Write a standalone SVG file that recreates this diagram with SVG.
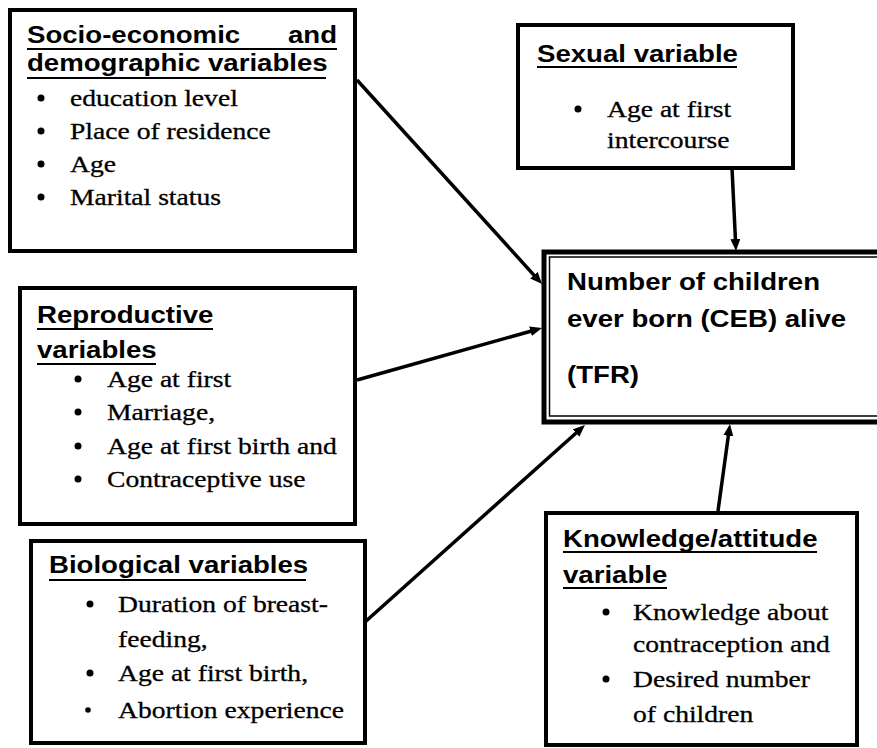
<svg xmlns="http://www.w3.org/2000/svg" width="877" height="748" viewBox="0 0 877 748">
<defs>
<style>
.box{fill:#fff;stroke:#000;stroke-width:4}
.h{font-family:"Liberation Sans",Arial,sans-serif;font-weight:bold;font-size:24px;fill:#000}
.t{font-family:"Liberation Serif","Times New Roman",serif;font-size:24px;fill:#000;stroke:#000;stroke-width:0.3}
.ul{stroke:#000;stroke-width:2}
.dot{fill:#000}
.conn{stroke:#000;stroke-width:3.5;fill:none;marker-end:url(#ah)}
</style>
<marker id="ah" markerUnits="userSpaceOnUse" markerWidth="13" markerHeight="11" refX="2" refY="5" orient="auto">
<path d="M0,0 L12,5 L0,10 z" fill="#000"/>
</marker>
</defs>
<rect width="877" height="748" fill="#fff"/>

<g id="connectors">
<path class="conn" d="M357,80 L535.3,276.6"/>
<path class="conn" d="M357,380 L532.4,330.7"/>
<path class="conn" d="M365,622 L577.5,431.7"/>
<path class="conn" d="M718,511 L728.6,433.9"/>
<path class="conn" d="M732,168 L735.5,241"/>
</g>

<g id="socio">
<rect class="box" x="10" y="10" width="345" height="241"/>
<text class="h" transform="matrix(1.15 0 0 1 27 43)">Socio-economic</text>
<text class="h" text-anchor="end" transform="matrix(1.15 0 0 1 337 43)">and</text>
<line class="ul" x1="27" y1="49" x2="337" y2="49"/>
<text class="h" transform="matrix(1.15 0 0 1 27 71)">demographic variables</text>
<line class="ul" x1="27" y1="78" x2="326" y2="78"/>
<circle class="dot" cx="41" cy="98" r="3.5"/>
<text class="t" transform="matrix(1.15 0 0 1 70 106)">education level</text>
<circle class="dot" cx="41" cy="131" r="3.5"/>
<text class="t" transform="matrix(1.15 0 0 1 70 139)">Place of residence</text>
<circle class="dot" cx="41" cy="164" r="3.5"/>
<text class="t" transform="matrix(1.15 0 0 1 70 172)">Age</text>
<circle class="dot" cx="41" cy="197" r="3.5"/>
<text class="t" transform="matrix(1.15 0 0 1 70 205)">Marital status</text>
</g>

<g id="sexual">
<rect class="box" x="518" y="25" width="275" height="143"/>
<text class="h" transform="matrix(1.15 0 0 1 537 62)">Sexual variable</text>
<line class="ul" x1="537" y1="67" x2="737" y2="67"/>
<circle class="dot" cx="578" cy="109" r="3.5"/>
<text class="t" transform="matrix(1.15 0 0 1 607 117)">Age at first</text>
<text class="t" transform="matrix(1.15 0 0 1 607 148)">intercourse</text>
</g>

<g id="outcome">
<rect x="544" y="252" width="400" height="170" fill="#fff" stroke="#000" stroke-width="5"/>
<rect x="549.5" y="257" width="400" height="159" fill="none" stroke="#000" stroke-width="1.5"/>
<text class="h" transform="matrix(1.15 0 0 1 567 290)">Number of children</text>
<text class="h" transform="matrix(1.15 0 0 1 567 327)">ever born (CEB) alive</text>
<text class="h" transform="matrix(1.15 0 0 1 567 383)">(TFR)</text>
</g>

<g id="reproductive">
<rect class="box" x="20" y="288" width="335" height="236"/>
<text class="h" transform="matrix(1.15 0 0 1 37 323)">Reproductive</text>
<line class="ul" x1="37" y1="329" x2="213" y2="329"/>
<text class="h" transform="matrix(1.15 0 0 1 37 358)">variables</text>
<line class="ul" x1="37" y1="364" x2="156" y2="364"/>
<circle class="dot" cx="78" cy="379" r="3.5"/>
<text class="t" transform="matrix(1.15 0 0 1 107 387)">Age at first</text>
<circle class="dot" cx="78" cy="412" r="3.5"/>
<text class="t" transform="matrix(1.15 0 0 1 107 420)">Marriage,</text>
<circle class="dot" cx="78" cy="446" r="3.5"/>
<text class="t" transform="matrix(1.15 0 0 1 107 454)">Age at first birth and</text>
<circle class="dot" cx="78" cy="479" r="3.5"/>
<text class="t" transform="matrix(1.15 0 0 1 107 487)">Contraceptive use</text>
</g>

<g id="biological">
<rect class="box" x="31" y="541" width="334" height="202"/>
<text class="h" transform="matrix(1.15 0 0 1 49 573)">Biological variables</text>
<line class="ul" x1="49" y1="580" x2="306" y2="580"/>
<circle class="dot" cx="90" cy="604" r="3.5"/>
<text class="t" transform="matrix(1.15 0 0 1 118 612)">Duration of breast-</text>
<text class="t" transform="matrix(1.15 0 0 1 118 647)">feeding,</text>
<circle class="dot" cx="90" cy="673" r="3.5"/>
<text class="t" transform="matrix(1.15 0 0 1 118 681)">Age at first birth,</text>
<circle class="dot" cx="88" cy="710" r="2.8"/>
<text class="t" transform="matrix(1.15 0 0 1 118 718)">Abortion experience</text>
</g>

<g id="knowledge">
<rect class="box" x="546" y="513" width="311" height="232"/>
<text class="h" transform="matrix(1.15 0 0 1 563 547)">Knowledge/attitude</text>
<line class="ul" x1="563" y1="552" x2="817" y2="552"/>
<text class="h" transform="matrix(1.15 0 0 1 563 583)">variable</text>
<line class="ul" x1="563" y1="588" x2="667" y2="588"/>
<circle class="dot" cx="606" cy="612" r="3.5"/>
<text class="t" transform="matrix(1.15 0 0 1 633 620)">Knowledge about</text>
<text class="t" transform="matrix(1.15 0 0 1 633 652)">contraception and</text>
<circle class="dot" cx="606" cy="679" r="3.5"/>
<text class="t" transform="matrix(1.15 0 0 1 633 687)">Desired number</text>
<text class="t" transform="matrix(1.15 0 0 1 633 722)">of children</text>
</g>
</svg>
